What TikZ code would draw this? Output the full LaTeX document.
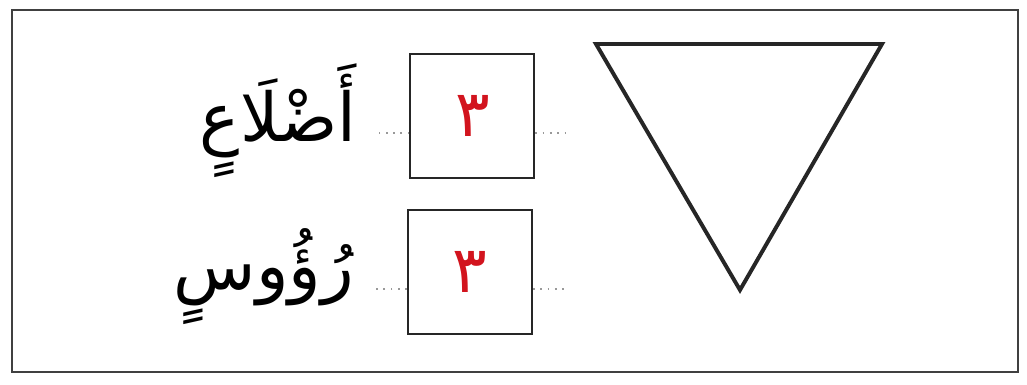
\documentclass[tikz,border=0pt]{standalone}
\usepackage{fontspec}
\newfontfamily\arabicfont[Script=Arabic]{DejaVu Sans}
\TeXXeTstate=1
\definecolor{numred}{RGB}{210,20,30}
\usepackage{tikz}

\begin{document}
\begin{tikzpicture}
\useasboundingbox (0,0) rectangle (25.675,9.6);
\draw[line width=1.2pt,black!75] (0.3,0.3) rectangle (25.45,9.35);
% triangle
\draw[line width=2.8pt,black!85,line join=miter] (14.9,8.5)--(22.05,8.5)--(18.5,2.35)--cycle;
% count boxes with their words
\foreach \xx/\yy/\nm/\ww in {11.81/6.7/sides/{أَضْلَاعٍ},11.75/2.8/verts/{رُؤُوسٍ}}{
\node[draw,line width=1.3pt,black!85,minimum size=3.1cm,inner sep=0pt,text=numred,font=\arabicfont\fontsize{46}{54}\selectfont] (\nm box) at (\xx,\yy) {٣};
\draw[line width=1.4pt,black!40,dash pattern=on 1.2pt off 4pt] ([yshift=-0.42cm]\nm box.west) -- ++(-0.9,0) coordinate (\nm l);
\draw[line width=1.4pt,black!40,dash pattern=on 1.2pt off 4pt] ([yshift=-0.42cm]\nm box.east) -- ++(0.9,0);
\node[anchor=east,font=\arabicfont\fontsize{48}{56}\selectfont] (\nm word) at ([xshift=-0.3cm,yshift=0.3cm]\nm l) {\beginR\ww\endR};}
\end{tikzpicture}
\end{document}
